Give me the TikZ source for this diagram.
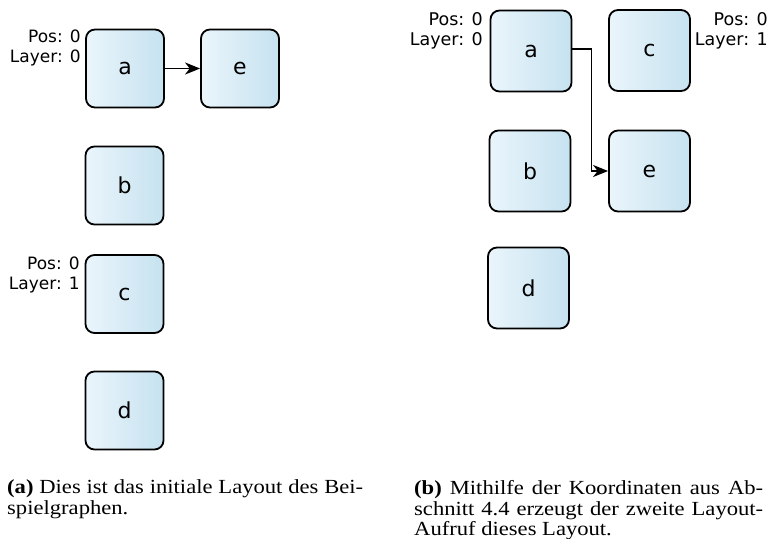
\documentclass[tikz,border=0pt]{standalone}
\usepackage{fontspec}
\setmainfont{Liberation Serif}[FakeStretch=1.13]
\newfontfamily\labelfont{DejaVu Sans}
\usetikzlibrary{arrows.meta}
\definecolor{boxleft}{HTML}{EAF5FB}
\definecolor{boxright}{HTML}{C6E2F0}
\tikzset{
  x=1pt, y=-1pt,
  graphbox/.style={draw=black, line width=1.8pt, rounded corners=9pt,
    left color=boxleft, right color=boxright,
    minimum width=#1, minimum height=#1, inner sep=0pt,
    font=\labelfont\fontsize{22}{26}\selectfont},
  poslabel/.style={align=right, inner sep=0pt, anchor=base east,
    font=\labelfont\fontsize{17}{19.5}\selectfont},
  edge/.style={line width=1.8pt, -{Stealth[length=15pt, width=12pt, inset=4.5pt]}},
  caption/.style={anchor=base west, inner sep=0pt,
    font=\fontsize{20}{24}\selectfont}
}
\begin{document}
\begin{tikzpicture}
\useasboundingbox (0,0) rectangle (773,538);

% initial layout
\node[graphbox=78pt] (la) at (125,68.5) {a};
\node[graphbox=78pt] (le) at (240,68.5) {e};
\node[graphbox=78pt] (lb) at (124.5,185.5) {b};
\node[graphbox=78pt] (lc) at (124.5,294) {c};
\node[graphbox=78pt] (ld) at (124.5,410.5) {d};
\node[poslabel] (lapos) at (81,62) {Pos: 0\\Layer: 0};
\node[poslabel] (lcpos) at (80,289) {Pos: 0\\Layer: 1};
\draw[edge] (la) -- (le);

% second layout
\node[graphbox=81pt] (ra) at (531,51) {a};
\node[graphbox=81pt] (rc) at (649.5,50.5) {c};
\node[graphbox=81pt] (rb) at (530,171) {b};
\node[graphbox=81pt] (re) at (649.5,171) {e};
\node[graphbox=81pt] (rd) at (528.5,288) {d};
\node[poslabel, font=\labelfont\fontsize{17.5}{20}\selectfont] (rapos) at (483,45) {Pos: 0\\Layer: 0};
\node[poslabel, font=\labelfont\fontsize{17.5}{20}\selectfont] (rcpos) at (768,45) {Pos: 0\\Layer: 1};
\draw[edge] ([yshift=2pt]ra.east) -- ++(19,0) |- (re.west);

% captions
\node[caption] (capa1) at (7,493) {\makebox[356pt][s]{\textbf{(a)} Dies ist das initiale Layout des Bei-}};
\node[caption] (capa2) at (7,514) {spielgraphen.};
\node[caption] (capb1) at (414,494) {\makebox[349pt][s]{\textbf{(b)} Mithilfe der Koordinaten aus Ab-}};
\node[caption] (capb2) at (414,515) {\makebox[349pt][s]{schnitt 4.4 erzeugt der zweite Layout-}};
\node[caption] (capb3) at (414,535) {Aufruf dieses Layout.};
\end{tikzpicture}
\end{document}
